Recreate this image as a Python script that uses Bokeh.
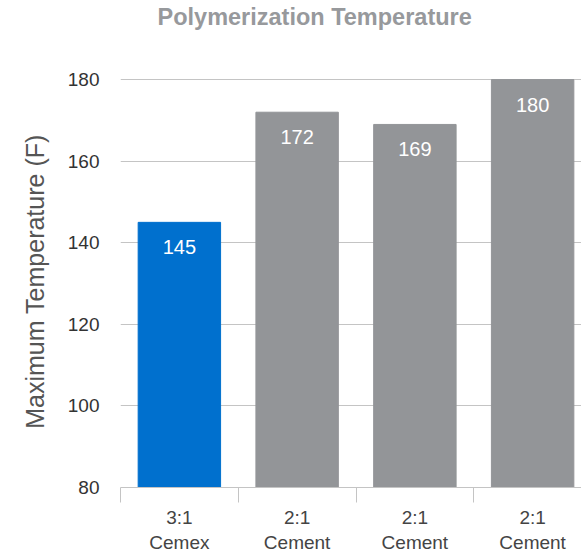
from bokeh.plotting import figure
from bokeh.models import Range1d, FixedTicker, ColumnDataSource, Title
from bokeh.core.properties import value
from bokeh.embed import file_html
from bokeh.resources import INLINE

title_text = "Polymerization Temperature"
categories = ["3:1\nCemex", "2:1\nCement", "2:1\nCement", "2:1\nCement"]
temps = [145, 172, 169, 180]
colors = ["#0070ce", "#939598", "#939598", "#939598"]
y_ticks = [80, 100, 120, 140, 160, 180]

centers = [i + 0.5 for i in range(len(categories))]
bounds = [float(i) for i in range(len(categories) + 1)]

FONT = "Liberation Sans"

src = ColumnDataSource(dict(x=centers, top=temps, color=colors,
                            label=[str(t) for t in temps]))

p = figure(width=581, height=558, output_backend="svg", toolbar_location=None,
           x_range=Range1d(0, 3.915), y_range=Range1d(80, 181),
           min_border_left=120, min_border_right=0, min_border_top=75,
           min_border_bottom=71)
p.outline_line_color = None
p.background_fill_color = "white"

# spacer (nearest the frame) then the real title above it
spacer = Title(text=" ", text_font_size="1px", standoff=43)
p.add_layout(spacer, "above")
title = Title(text=title_text, align="left", offset=37, standoff=0,
              text_font=FONT, text_font_size="23.5px",
              text_font_style="bold", text_color="#97999c")
p.add_layout(title, "above")

p.vbar(x="x", top="top", bottom=80, width=0.7, color="color", source=src)
p.text(x="x", y="top", text="label", source=src, text_color="white",
       text_font=value(FONT), text_font_size="20px",
       text_align="center", text_baseline="middle", y_offset=25)

# y axis
p.yaxis.ticker = FixedTicker(ticks=y_ticks)
p.yaxis.axis_line_color = None
p.yaxis.major_tick_line_color = None
p.yaxis.minor_tick_line_color = None
p.yaxis.major_label_text_font = FONT
p.yaxis.major_label_text_font_size = "19px"
p.yaxis.major_label_text_color = "#333333"
p.yaxis.major_label_standoff = 15
p.yaxis.axis_label = "Maximum Temperature (F)"
p.yaxis.axis_label_text_font = FONT
p.yaxis.axis_label_text_font_size = "25px"
p.yaxis.axis_label_text_font_style = "normal"
p.yaxis.axis_label_text_color = "#555555"
p.yaxis.axis_label_standoff = 16

# x axis: labels at centers, boundary ticks as minor ticks
p.xaxis.ticker = FixedTicker(ticks=centers, minor_ticks=bounds)
p.xaxis.major_label_overrides = {c: lab for c, lab in zip(centers, categories)}
p.xaxis.major_tick_line_color = None
p.xaxis.minor_tick_line_color = "#c4c4c4"
p.xaxis.minor_tick_in = 0
p.xaxis.minor_tick_out = 15
p.xaxis.axis_line_color = "#c4c4c4"
p.xaxis.major_label_text_font = FONT
p.xaxis.major_label_text_font_size = "19px"
p.xaxis.major_label_text_color = "#444444"
p.xaxis.major_label_standoff = 4

p.xgrid.grid_line_color = None
p.ygrid.ticker = FixedTicker(ticks=y_ticks)
p.ygrid.grid_line_color = "#c4c4c4"
p.ygrid.grid_line_width = 1

open("out.html", "w").write(file_html(p, INLINE))
